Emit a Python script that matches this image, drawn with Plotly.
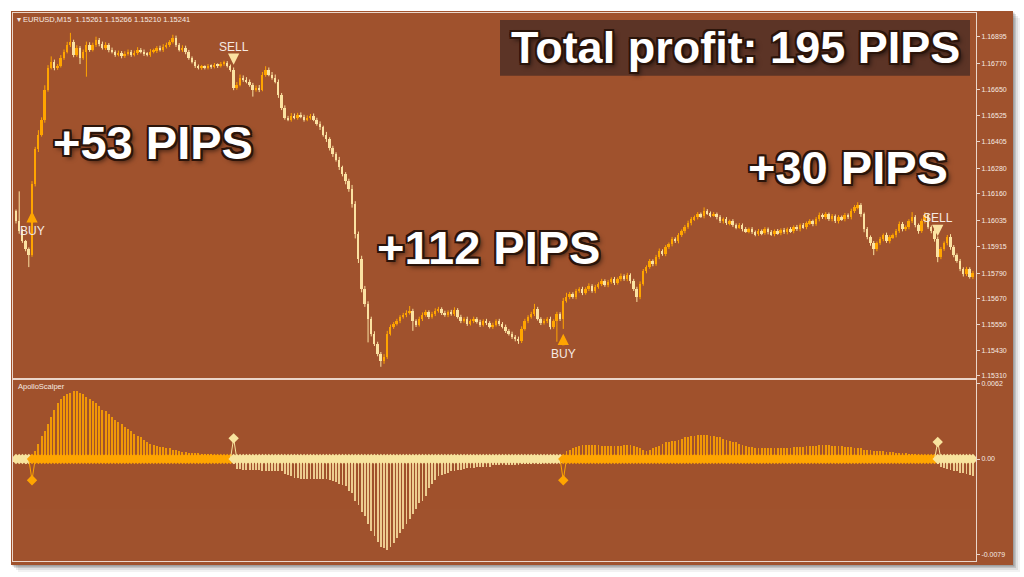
import plotly.graph_objects as go

W, H = 1024, 577
def px(x): return x / W
def py(y): return 1 - y / H

# ---------------- data ----------------
BASE = 1.15            # prices stored as points above 1.15000
first_open = 1079
closes = [
    1032, 986, 939, 902, 874, 1205, 1368, 1438, 1508, 1648, 1750, 1778, 1750, 1759, 1797, 1825, 1857, 1871, 1811, 1843,
    1797, 1825, 1857, 1834, 1857, 1881, 1862, 1843, 1857, 1834, 1825, 1811, 1820, 1806, 1815, 1825, 1811, 1820, 1834, 1825,
    1815, 1811, 1825, 1829, 1843, 1834, 1848, 1857, 1871, 1890, 1857, 1834, 1843, 1825, 1797, 1778, 1759, 1750, 1755, 1750,
    1759, 1755, 1764, 1759, 1769, 1773, 1759, 1741, 1657, 1671, 1704, 1694, 1685, 1671, 1648, 1657, 1648, 1718, 1741, 1718,
    1704, 1685, 1624, 1564, 1517, 1508, 1526, 1517, 1531, 1522, 1508, 1517, 1526, 1508, 1489, 1471, 1438, 1415, 1377, 1345,
    1321, 1284, 1252, 1219, 1182, 1112, 972, 855, 716, 646, 576, 506, 459, 413, 380, 399, 506, 539, 553, 566,
    585, 594, 604, 613, 566, 548, 576, 594, 608, 585, 599, 613, 622, 604, 594, 608, 599, 618, 585, 566,
    576, 553, 566, 576, 562, 548, 566, 557, 539, 548, 566, 553, 539, 520, 506, 492, 483, 473, 529, 566,
    585, 599, 622, 576, 557, 566, 576, 539, 566, 599, 576, 660, 678, 692, 678, 706, 716, 697, 716, 730,
    706, 725, 739, 753, 734, 748, 762, 744, 762, 776, 762, 781, 753, 716, 678, 739, 799, 818, 846, 832,
    865, 893, 879, 911, 925, 949, 939, 967, 986, 1005, 1023, 1042, 1051, 1065, 1056, 1079, 1070, 1061, 1065, 1051,
    1032, 1042, 1023, 1032, 1014, 1005, 1014, 995, 986, 995, 981, 972, 986, 977, 995, 981, 972, 986, 977, 991,
    981, 995, 986, 1005, 995, 1014, 1005, 1023, 1032, 1019, 1042, 1061, 1051, 1065, 1042, 1056, 1032, 1051, 1042, 1061,
    1051, 1079, 1098, 1107, 1065, 995, 958, 930, 902, 930, 949, 967, 939, 958, 967, 986, 1019, 995, 1005, 1032,
    1051, 1014, 986, 1032, 1061, 1005, 986, 949, 865, 902, 930, 958, 911, 874, 846, 809, 786, 809, 772, 790,
]
wick_up = [
    8, 140, 10, 6, 8, 15, 12, 20, 10, 20, 12, 25, 10, 8, 12, 10, 14, 42, 10, 12,
    8, 10, 15, 12, 10, 14, 8, 10, 12, 8, 10, 6, 10, 8, 12, 10, 8, 10, 12, 8,
    10, 8, 12, 10, 8, 10, 12, 10, 8, 14, 10, 8, 12, 10, 8, 6, 8, 6, 8, 6,
    8, 6, 8, 6, 8, 10, 8, 6, 10, 12, 14, 10, 12, 10, 8, 10, 12, 12, 16, 10,
    12, 14, 10, 8, 10, 8, 12, 10, 8, 10, 8, 10, 8, 10, 8, 10, 8, 12, 10, 8,
    10, 12, 8, 10, 12, 20, 14, 12, 16, 14, 12, 10, 12, 10, 8, 12, 14, 10, 8, 10,
    8, 10, 12, 23, 10, 8, 10, 12, 10, 8, 10, 12, 10, 8, 10, 8, 10, 12, 8, 10,
    8, 10, 8, 10, 8, 10, 8, 10, 8, 10, 8, 10, 8, 10, 8, 10, 8, 10, 12, 10,
    8, 10, 24, 10, 8, 10, 8, 10, 8, 10, 8, 14, 20, 10, 8, 10, 8, 10, 8, 12,
    8, 10, 8, 10, 8, 10, 8, 10, 8, 12, 8, 10, 8, 10, 10, 12, 10, 8, 10, 8,
    10, 12, 8, 10, 8, 10, 8, 10, 8, 10, 12, 10, 8, 10, 8, 18, 10, 8, 10, 8,
    10, 8, 10, 8, 10, 8, 10, 8, 10, 8, 10, 8, 10, 8, 10, 8, 10, 8, 10, 8,
    10, 8, 10, 8, 10, 8, 10, 8, 10, 8, 10, 12, 8, 10, 8, 10, 8, 10, 8, 10,
    8, 12, 10, 14, 10, 8, 10, 8, 10, 8, 10, 8, 12, 10, 8, 10, 12, 10, 8, 10,
    24, 10, 8, 12, 14, 10, 8, 10, 12, 10, 8, 10, 14, 10, 8, 10, 8, 10, 8, 10,
]
wick_dn = [
    10, 12, 8, 10, 56, 8, 10, 12, 10, 15, 10, 8, 12, 10, 8, 10, 8, 10, 12, 10,
    30, 10, 117, 10, 8, 10, 12, 8, 10, 12, 8, 10, 8, 12, 10, 8, 10, 8, 10, 8,
    10, 8, 10, 8, 10, 8, 10, 8, 10, 8, 10, 8, 10, 12, 10, 8, 10, 8, 10, 8,
    8, 10, 8, 10, 8, 10, 8, 10, 12, 10, 8, 10, 8, 10, 33, 10, 12, 8, 10, 8,
    10, 8, 15, 12, 10, 8, 10, 8, 10, 8, 10, 8, 10, 8, 10, 12, 10, 12, 14, 12,
    10, 12, 10, 14, 12, 16, 20, 18, 16, 14, 110, 12, 10, 12, 28, 14, 10, 8, 10, 8,
    10, 8, 10, 8, 46, 10, 8, 10, 8, 10, 8, 10, 8, 10, 8, 10, 8, 10, 8, 10,
    8, 10, 8, 10, 8, 10, 8, 10, 8, 10, 8, 10, 8, 10, 8, 10, 12, 14, 10, 8,
    10, 8, 10, 8, 10, 8, 10, 12, 10, 97, 10, 47, 8, 10, 8, 10, 8, 10, 8, 10,
    8, 10, 8, 10, 8, 10, 8, 10, 8, 10, 8, 10, 12, 10, 23, 10, 8, 10, 8, 10,
    8, 10, 8, 10, 8, 10, 8, 10, 8, 10, 8, 10, 8, 10, 8, 10, 8, 10, 8, 10,
    8, 10, 8, 10, 8, 10, 8, 10, 8, 10, 8, 10, 8, 10, 8, 10, 8, 10, 8, 10,
    8, 10, 8, 10, 8, 10, 8, 10, 8, 10, 8, 10, 8, 10, 8, 10, 8, 10, 8, 10,
    8, 10, 8, 10, 12, 14, 10, 12, 28, 10, 8, 10, 8, 10, 8, 10, 8, 10, 8, 10,
    8, 10, 12, 8, 10, 8, 10, 12, 24, 10, 8, 10, 12, 10, 8, 10, 12, 10, 8, 10,
]
# ApolloScalper histogram (units of 0.001)
hist = [
    -0.2, -0.3, -0.3, -0.4, -0.3, 0.2, 0.7, 1.3, 1.9, 2.3, 2.9, 3.5, 4.1, 4.6, 5.0, 5.2, 5.4, 5.5, 5.6, 5.6,
    5.5, 5.4, 5.1, 5.0, 4.8, 4.6, 4.4, 4.1, 4.0, 3.7, 3.5, 3.2, 3.1, 2.9, 2.7, 2.5, 2.3, 2.1, 1.9, 1.8,
    1.6, 1.4, 1.3, 1.2, 1.1, 1.0, 1.0, 0.9, 0.9, 0.8, 0.8, 0.7, 0.6, 0.6, 0.5, 0.5, 0.5, 0.5, 0.4, 0.4,
    0.4, 0.4, 0.3, 0.3, 0.3, 0.3, 0.2, 0.2, -0.4, -0.8, -0.8, -0.9, -0.9, -0.9, -0.9, -0.9, -0.9, -0.95, -0.95, -0.95,
    -0.95, -0.95, -1.0, -1.0, -1.2, -1.3, -1.4, -1.5, -1.5, -1.6, -1.6, -1.6, -1.6, -1.6, -1.6, -1.6, -1.6, -1.6, -1.7, -1.8,
    -1.9, -2.0, -2.1, -2.2, -2.6, -2.8, -3.4, -3.8, -4.3, -4.7, -5.3, -5.9, -6.3, -6.8, -7.2, -7.3, -7.5, -7.2, -6.9, -6.5,
    -6.1, -5.7, -5.3, -4.9, -4.5, -4.1, -3.6, -3.4, -3.0, -2.4, -2.0, -1.7, -1.4, -1.3, -1.2, -1.1, -1.0, -1.0, -0.9, -0.9,
    -0.8, -0.7, -0.7, -0.7, -0.6, -0.6, -0.6, -0.6, -0.6, -0.5, -0.5, -0.5, -0.5, -0.5, -0.5, -0.5, -0.5, -0.5, -0.4, -0.4,
    -0.4, -0.4, -0.4, -0.4, -0.4, -0.3, -0.3, -0.3, -0.3, -0.3, -0.3, 0.3, 0.7, 0.8, 0.9, 1.0, 1.1, 1.2, 1.2, 1.2,
    1.2, 1.2, 1.2, 1.1, 1.1, 1.1, 1.1, 1.1, 1.1, 1.1, 1.2, 1.2, 1.2, 1.1, 1.0, 0.9, 0.8, 0.7, 0.8, 0.9,
    1.0, 1.1, 1.3, 1.4, 1.4, 1.5, 1.5, 1.6, 1.7, 1.8, 1.8, 1.9, 1.9, 2.0, 2.0, 2.0, 2.0, 1.9, 1.9, 1.8,
    1.8, 1.7, 1.6, 1.5, 1.4, 1.4, 1.3, 1.2, 1.1, 1.0, 1.0, 0.9, 0.9, 0.9, 0.9, 0.9, 0.9, 0.9, 0.9, 0.9,
    0.9, 0.9, 0.9, 1.0, 1.0, 1.0, 1.0, 1.1, 1.1, 1.1, 1.1, 1.2, 1.2, 1.2, 1.2, 1.1, 1.1, 1.1, 1.1, 1.0,
    1.0, 1.0, 0.9, 0.9, 0.9, 0.8, 0.8, 0.8, 0.7, 0.7, 0.7, 0.7, 0.6, 0.6, 0.6, 0.5, 0.5, 0.5, 0.5, 0.4,
    0.4, 0.4, 0.4, 0.3, 0.3, 0.3, 0.3, 0.2, -0.4, -0.6, -0.7, -0.8, -0.9, -1.0, -1.0, -1.1, -1.1, -1.2, -1.3, -1.4,
]
sig_bars = [5, 68, 171, 288]
sig_types = ["BUY", "SELL", "BUY", "SELL"]
sig_vals = [-1.75, 1.7, -1.75, 1.4]        # indicator signal diamonds (0.001 units)
sig_price = [1079, 1764, 506, 963]          # arrow tip price (points above 1.15)
price_ticks = [1.16895, 1.16770, 1.16650, 1.16525, 1.16405, 1.16280, 1.16160,
               1.16035, 1.15915, 1.15790, 1.15670, 1.15550, 1.15430, 1.15310]
ind_ticks = [0.0062, 0.0, -0.0079]
ind_tick_text = ["0.0062", "0.00", "-0.0079"]
profit_labels = ["+53 PIPS", "+112 PIPS", "+30 PIPS"]
total_label = "Total profit: 195 PIPS"

# ---------------- styles ----------------
BG = "#A0522D"
ORANGE = "#FFA500"
PALE = "#FBE2A2"
BAND_PALE = "#F8E49E"
FRAME = "#EBD6CA"
TXT = "#F6EAE2"
FONT = "Liberation Sans, Arial, sans-serif"

N = len(closes)
idx = list(range(N))
pt = lambda v: BASE + v / 1e5
opens = [first_open] + closes[:-1]
highs = [max(o, c) + u for o, c, u in zip(opens, closes, wick_up)]
lows = [min(o, c) - d for o, c, d in zip(opens, closes, wick_dn)]

fig = go.Figure()

# candles: wicks + bodies
for up, col in ((True, ORANGE), (False, PALE)):
    sel = [i for i in idx if (closes[i] >= opens[i]) == up]
    wx, wy = [], []
    for i in sel:
        wx += [i, i, None]
        wy += [pt(lows[i]), pt(highs[i]), None]
    fig.add_trace(go.Scatter(x=wx, y=wy, mode="lines", line=dict(color=col, width=1),
                             hoverinfo="skip", xaxis="x", yaxis="y"))
    fig.add_trace(go.Bar(x=sel,
                         y=[max(abs(closes[i] - opens[i]), 2) / 1e5 for i in sel],
                         base=[pt(min(opens[i], closes[i])) for i in sel],
                         width=0.62, marker=dict(color=col, line=dict(width=0)),
                         xaxis="x", yaxis="y"))

# indicator histogram
fig.add_trace(go.Bar(x=idx, y=[h * 1e-3 for h in hist], width=0.28, opacity=0.85,
                     marker=dict(color=[ORANGE if h > 0 else PALE for h in hist], line=dict(width=0)),
                     xaxis="x2", yaxis="y2"))

# zero band coloured by phase
starts = [0] + sig_bars
ends = sig_bars + [N]
phase_cols = [BAND_PALE] + [ORANGE if t == "BUY" else BAND_PALE for t in sig_types]
for s, e, col in zip(starts, ends, phase_cols):
    xs = list(range(s, e))
    fig.add_trace(go.Scatter(x=xs, y=[0] * len(xs), mode="lines+markers",
                             line=dict(color=col, width=5),
                             marker=dict(symbol="diamond", size=8, color=col),
                             xaxis="x2", yaxis="y2", hoverinfo="skip"))

# signal diamonds
for b, t, v in zip(sig_bars, sig_types, sig_vals):
    col = ORANGE if t == "BUY" else BAND_PALE
    fig.add_trace(go.Scatter(x=[b - 1, b, b + 1], y=[0, v * 1e-3, 0], mode="lines",
                             line=dict(color=col, width=1), xaxis="x2", yaxis="y2", hoverinfo="skip"))
    fig.add_trace(go.Scatter(x=[b], y=[v * 1e-3], mode="markers",
                             marker=dict(symbol="diamond", size=8, color=col),
                             xaxis="x2", yaxis="y2", hoverinfo="skip"))

annotations = []
# BUY / SELL arrows
for b, t, p in zip(sig_bars, sig_types, sig_price):
    buy = t == "BUY"
    annotations.append(dict(
        x=b, y=pt(p), xref="x", yref="y", text=t, showarrow=True,
        ax=0, ay=20 if buy else -18, arrowhead=2, arrowsize=0.9, arrowwidth=2.5,
        arrowcolor=ORANGE if buy else PALE, standoff=0,
        font=dict(family=FONT, size=12, color=TXT)))

# header texts
annotations.append(dict(x=px(15), y=py(19.5), xref="paper", yref="paper", xanchor="left", yanchor="middle",
                        text="\u25be EURUSD,M15  1.15261 1.15266 1.15210 1.15241", showarrow=False,
                        font=dict(family=FONT, size=7.5, color=TXT)))
annotations.append(dict(x=px(16), y=py(388), xref="paper", yref="paper", xanchor="left", yanchor="middle",
                        text="ApolloScalper", showarrow=False, font=dict(family=FONT, size=7.5, color=TXT)))

OUTLINE = ("-2px -2px 0 #2b140a, 2px -2px 0 #2b140a, -2px 2px 0 #2b140a, 2px 2px 0 #2b140a, "
           "0 2px 0 #2b140a, 0 -2px 0 #2b140a, 2px 0 0 #2b140a, -2px 0 0 #2b140a, 3px 3px 5px rgba(0,0,0,0.6)")
label_pos = [(153, 143), (488, 248), (848, 168)]
for txt, (cx, cy) in zip(profit_labels, label_pos):
    annotations.append(dict(x=px(cx), y=py(cy), xref="paper", yref="paper", xanchor="center", yanchor="middle",
                            text=txt, showarrow=False,
                            font=dict(family=FONT, size=47, color="white", weight="bold", shadow=OUTLINE)))
annotations.append(dict(x=px(735), y=py(48), xref="paper", yref="paper", xanchor="center", yanchor="middle",
                        text=total_label, showarrow=False,
                        font=dict(family=FONT, size=45, color="white", weight="bold", shadow=OUTLINE)))

shapes = []
for off, op in ((7, 0.05), (5, 0.08), (3, 0.12), (1.5, 0.18)):
    shapes.append(dict(type="rect", xref="paper", yref="paper", x0=px(11 + off), x1=px(1013 + off),
                       y0=py(567 + off), y1=py(11 + off), fillcolor=f"rgba(0,0,0,{op})",
                       line=dict(width=0), layer="below"))
shapes.append(dict(type="rect", xref="paper", yref="paper", x0=px(11), x1=px(1013), y0=py(567), y1=py(11),
                   fillcolor=BG, line=dict(width=0), layer="below"))
shapes.append(dict(type="rect", xref="paper", yref="paper", x0=px(500), x1=px(970), y0=py(76), y1=py(20),
                   fillcolor="#5C3426", line=dict(width=0), layer="above"))

xcommon = dict(domain=[px(13), px(976)], range=[-0.94, 299.96], showticklabels=False, showgrid=False,
               zeroline=False, showline=True, mirror=True, linecolor=FRAME, linewidth=1, ticks="")
ycommon = dict(side="right", ticks="outside", ticklen=3, tickcolor=FRAME, showgrid=False, zeroline=False,
               showline=True, mirror=True, linecolor=FRAME, linewidth=1,
               tickfont=dict(family=FONT, size=7, color=TXT))

fig.update_layout(
    width=W, height=H, margin=dict(l=0, r=0, t=0, b=0),
    paper_bgcolor="white", plot_bgcolor="rgba(0,0,0,0)",
    showlegend=False, barmode="overlay", bargap=0,
    xaxis=dict(anchor="y", **xcommon),
    xaxis2=dict(anchor="y2", matches="x", **xcommon),
    yaxis=dict(anchor="x", domain=[py(379), py(13)], range=[1.15301, 1.17006],
               tickvals=price_ticks, ticktext=[f"{v:.5f}" for v in price_ticks], **ycommon),
    yaxis2=dict(anchor="x2", domain=[py(563), py(381)], range=[-0.0084, 0.00653],
                tickvals=ind_ticks, ticktext=ind_tick_text, **ycommon),
    annotations=annotations, shapes=shapes,
)

fig.write_html("out.html", config={"displayModeBar": False},
               post_script="document.body.style.margin='0';")
